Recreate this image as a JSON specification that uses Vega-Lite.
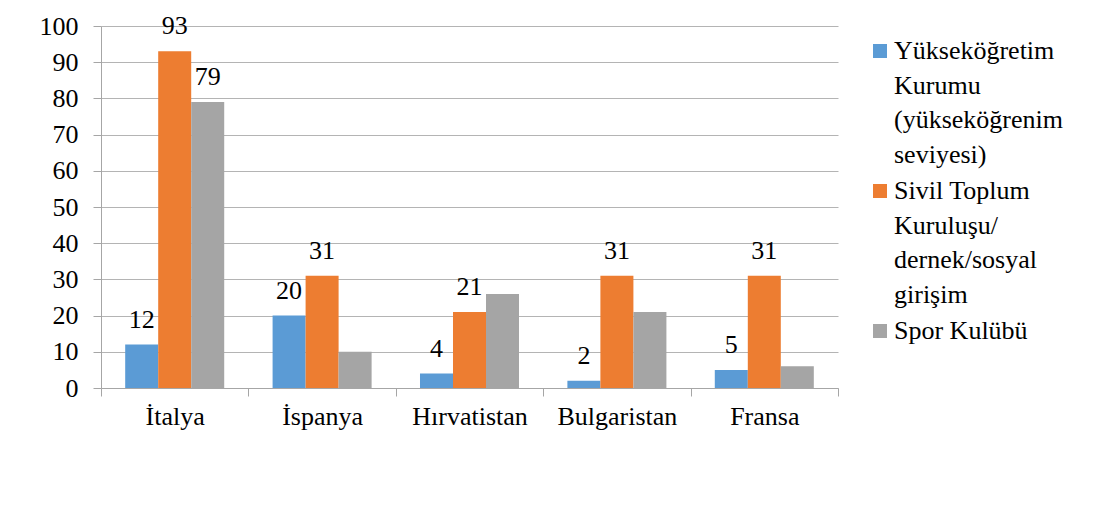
{
  "$schema": "https://vega.github.io/schema/vega-lite/v6.json",
  "width": 737,
  "height": 362,
  "autosize": {"type": "none"},
  "padding": {"left": 101, "top": 26, "right": 265, "bottom": 131},
  "background": "white",
  "config": {
    "view": {"stroke": null},
    "font": "Liberation Serif"
  },
  "data": {
    "values": [
      {"country": "İtalya", "series": "Yükseköğretim Kurumu (yükseköğrenim seviyesi)", "value": 12, "label": 12},
      {"country": "İtalya", "series": "Sivil Toplum Kuruluşu/dernek/sosyal girişim", "value": 93, "label": 93},
      {"country": "İtalya", "series": "Spor Kulübü", "value": 79, "label": 79},
      {"country": "İspanya", "series": "Yükseköğretim Kurumu (yükseköğrenim seviyesi)", "value": 20, "label": 20},
      {"country": "İspanya", "series": "Sivil Toplum Kuruluşu/dernek/sosyal girişim", "value": 31, "label": 31},
      {"country": "İspanya", "series": "Spor Kulübü", "value": 10, "label": null},
      {"country": "Hırvatistan", "series": "Yükseköğretim Kurumu (yükseköğrenim seviyesi)", "value": 4, "label": 4},
      {"country": "Hırvatistan", "series": "Sivil Toplum Kuruluşu/dernek/sosyal girişim", "value": 21, "label": 21},
      {"country": "Hırvatistan", "series": "Spor Kulübü", "value": 26, "label": null},
      {"country": "Bulgaristan", "series": "Yükseköğretim Kurumu (yükseköğrenim seviyesi)", "value": 2, "label": 2},
      {"country": "Bulgaristan", "series": "Sivil Toplum Kuruluşu/dernek/sosyal girişim", "value": 31, "label": 31},
      {"country": "Bulgaristan", "series": "Spor Kulübü", "value": 21, "label": null},
      {"country": "Fransa", "series": "Yükseköğretim Kurumu (yükseköğrenim seviyesi)", "value": 5, "label": 5},
      {"country": "Fransa", "series": "Sivil Toplum Kuruluşu/dernek/sosyal girişim", "value": 31, "label": 31},
      {"country": "Fransa", "series": "Spor Kulübü", "value": 6, "label": null}
    ]
  },
  "encoding": {
    "x": {
      "field": "country",
      "type": "nominal",
      "sort": ["İtalya", "İspanya", "Hırvatistan", "Bulgaristan", "Fransa"],
      "scale": {"paddingInner": 0, "paddingOuter": 0},
      "axis": {
        "title": null,
        "labelAngle": 0,
        "labelFont": "Liberation Serif",
        "labelFontSize": 26,
        "labelColor": "#000000",
        "tickBand": "extent",
        "ticks": true,
        "tickSize": 8,
        "tickColor": "#a6a6a6",
        "domainColor": "#a6a6a6",
        "labelPadding": 7,
        "grid": false
      }
    },
    "xOffset": {
      "field": "series",
      "type": "nominal",
      "sort": ["Yükseköğretim Kurumu (yükseköğrenim seviyesi)", "Sivil Toplum Kuruluşu/dernek/sosyal girişim", "Spor Kulübü"],
      "scale": {"paddingInner": 0, "paddingOuter": 0.733}
    },
    "y": {
      "field": "value",
      "type": "quantitative",
      "scale": {"domain": [0, 100], "nice": false},
      "axis": {
        "title": null,
        "values": [0, 10, 20, 30, 40, 50, 60, 70, 80, 90, 100],
        "labelFont": "Liberation Serif",
        "labelFontSize": 26,
        "labelColor": "#000000",
        "grid": true,
        "gridColor": "#b4b4b4",
        "tickSize": 8,
        "tickColor": "#a6a6a6",
        "domainColor": "#a6a6a6",
        "labelPadding": 15
      }
    }
  },
  "layer": [
    {
      "mark": {"type": "bar"},
      "encoding": {
        "color": {
          "field": "series",
          "type": "nominal",
          "scale": {
            "domain": ["Yükseköğretim Kurumu (yükseköğrenim seviyesi)", "Sivil Toplum Kuruluşu/dernek/sosyal girişim", "Spor Kulübü"],
            "range": ["#5B9BD5", "#ED7D31", "#A5A5A5"]
          },
          "legend": {
            "title": null,
            "orient": "none",
            "legendX": 766,
            "legendY": 12,
            "symbolType": "square",
            "symbolSize": 196,
            "symbolStrokeWidth": 0,
            "labelFont": "Liberation Serif",
            "labelFontSize": 26,
            "labelColor": "#000000",
            "labelOffset": 1,
            "labelLimit": 300,
            "rowPadding": 10,
            "labelExpr": "datum.label == 'Spor Kulübü' ? 'Spor Kulübü' : (indexof(datum.label, 'Sivil') == 0 ? ['Sivil Toplum', 'Kuruluşu/', 'dernek/sosyal', 'girişim'] : ['Yükseköğretim', 'Kurumu', '(yükseköğrenim', 'seviyesi)'])",
            "encode": {"labels": {"update": {"lineHeight": {"value": 34.5}}}}
          }
        }
      }
    },
    {
      "transform": [{"filter": "datum.label != null"}],
      "mark": {"type": "text", "baseline": "alphabetic", "dy": -17, "fontSize": 26, "font": "Liberation Serif", "color": "#000000"},
      "encoding": {
        "text": {"field": "label", "type": "quantitative"}
      }
    }
  ]
}
